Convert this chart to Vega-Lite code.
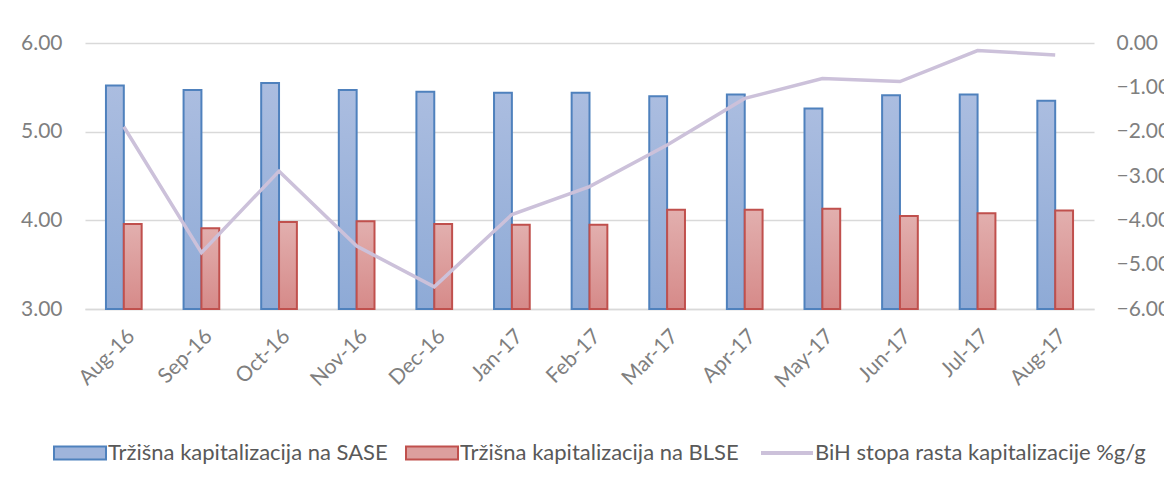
{
  "$schema": "https://vega.github.io/schema/vega-lite/v6.json",
  "width": 1009,
  "height": 266,
  "autosize": {"type": "none"},
  "padding": {"left": 85, "top": 43, "right": 70, "bottom": 184},
  "background": "white",
  "config": {
    "font": "Lato",
    "view": {"stroke": null},
    "axis": {"labelFont": "Lato", "labelColor": "#7f7f7f", "title": null}
  },
  "datasets": {
    "bars": [
      {"month": "Aug-16", "series": "SASE", "value": 5.52},
      {"month": "Aug-16", "series": "BLSE", "value": 3.96},
      {"month": "Sep-16", "series": "SASE", "value": 5.47},
      {"month": "Sep-16", "series": "BLSE", "value": 3.91},
      {"month": "Oct-16", "series": "SASE", "value": 5.55},
      {"month": "Oct-16", "series": "BLSE", "value": 3.98},
      {"month": "Nov-16", "series": "SASE", "value": 5.47},
      {"month": "Nov-16", "series": "BLSE", "value": 3.99},
      {"month": "Dec-16", "series": "SASE", "value": 5.45},
      {"month": "Dec-16", "series": "BLSE", "value": 3.96},
      {"month": "Jan-17", "series": "SASE", "value": 5.44},
      {"month": "Jan-17", "series": "BLSE", "value": 3.95},
      {"month": "Feb-17", "series": "SASE", "value": 5.44},
      {"month": "Feb-17", "series": "BLSE", "value": 3.95},
      {"month": "Mar-17", "series": "SASE", "value": 5.40},
      {"month": "Mar-17", "series": "BLSE", "value": 4.12},
      {"month": "Apr-17", "series": "SASE", "value": 5.42},
      {"month": "Apr-17", "series": "BLSE", "value": 4.12},
      {"month": "May-17", "series": "SASE", "value": 5.26},
      {"month": "May-17", "series": "BLSE", "value": 4.13},
      {"month": "Jun-17", "series": "SASE", "value": 5.41},
      {"month": "Jun-17", "series": "BLSE", "value": 4.05},
      {"month": "Jul-17", "series": "SASE", "value": 5.42},
      {"month": "Jul-17", "series": "BLSE", "value": 4.08},
      {"month": "Aug-17", "series": "SASE", "value": 5.35},
      {"month": "Aug-17", "series": "BLSE", "value": 4.11}
    ],
    "line": [
      {"month": "Aug-16", "rate": -1.89},
      {"month": "Sep-16", "rate": -4.73},
      {"month": "Oct-16", "rate": -2.89},
      {"month": "Nov-16", "rate": -4.58},
      {"month": "Dec-16", "rate": -5.50},
      {"month": "Jan-17", "rate": -3.87},
      {"month": "Feb-17", "rate": -3.24},
      {"month": "Mar-17", "rate": -2.30},
      {"month": "Apr-17", "rate": -1.25},
      {"month": "May-17", "rate": -0.80},
      {"month": "Jun-17", "rate": -0.87},
      {"month": "Jul-17", "rate": -0.17},
      {"month": "Aug-17", "rate": -0.27}
    ]
  },
  "layer": [
    {
      "data": {"name": "bars"},
      "encoding": {
        "x": {
          "field": "month", "type": "ordinal", "sort": null,
          "scale": {"paddingInner": 0.54, "paddingOuter": 0.27},
          "axis": {"labelAngle": -45, "ticks": false, "domain": true, "domainColor": "#d9d9d9", "domainWidth": 1.5, "grid": false, "labelFontSize": 21, "labelPadding": 16, "title": null}
        },
        "xOffset": {"field": "series", "type": "nominal", "scale": {"domain": ["SASE", "BLSE"], "paddingInner": 0, "paddingOuter": 0}},
        "y": {
          "field": "value", "type": "quantitative",
          "scale": {"domain": [3, 6], "zero": false, "nice": false},
          "axis": {"values": [3, 4, 5, 6], "format": ".2f", "grid": true, "gridColor": "#d9d9d9", "gridWidth": 1.5, "domain": false, "ticks": false, "labelPadding": 23, "labelFontSize": 21, "title": null}
        },
        "y2": {"datum": 3}
      },
      "layer": [
        {
          "transform": [{"filter": "datum.series === 'SASE'"}],
          "mark": {
            "type": "bar",
            "fill": {"gradient": "linear", "x1": 0, "y1": 0, "x2": 0, "y2": 1,
              "stops": [{"offset": 0, "color": "#abbde0"}, {"offset": 1, "color": "#8eaad6"}]},
            "stroke": "#4f81bd",
            "strokeWidth": 2
          }
        },
        {
          "transform": [{"filter": "datum.series === 'BLSE'"}],
          "mark": {
            "type": "bar",
            "fill": {"gradient": "linear", "x1": 0, "y1": 0, "x2": 0, "y2": 1,
              "stops": [{"offset": 0, "color": "#e2afae"}, {"offset": 1, "color": "#d68a89"}]},
            "stroke": "#c0504d",
            "strokeWidth": 2
          }
        }
      ]
    },
    {
      "data": {"name": "line"},
      "mark": {"type": "line", "strokeWidth": 3.5, "strokeJoin": "miter"},
      "encoding": {
        "x": {"field": "month", "type": "ordinal", "sort": null},
        "y": {
          "field": "rate", "type": "quantitative",
          "scale": {"domain": [-6, 0], "nice": false},
          "axis": {"orient": "right", "values": [-6, -5, -4, -3, -2, -1, 0], "format": ".2f", "grid": false, "domain": false, "ticks": false, "labelPadding": 22, "labelFontSize": 21, "title": null}
        },
        "color": {
          "datum": "BiH stopa rasta kapitalizacije %g/g",
          "type": "nominal",
          "scale": {
            "domain": ["Tržišna kapitalizacija na SASE", "Tržišna kapitalizacija na BLSE", "BiH stopa rasta kapitalizacije %g/g"],
            "range": ["#4f81bd", "#c0504d", "#ccc1da"]
          },
          "legend": {
            "orient": "none",
            "legendX": -16,
            "legendY": 399,
            "direction": "horizontal",
            "title": null,
            "symbolSize": 2704,
            "labelFontSize": 22,
            "labelLimit": 500,
            "labelColor": "#595959",
            "labelFont": "Lato",
            "labelOffset": 17,
            "columnPadding": 14,
            "encode": {
              "symbols": {
                "update": {
                  "shape": {"signal": "datum.value === 'BiH stopa rasta kapitalizacije %g/g' ? 'M-1,0H1' : 'M-1,-0.25H1V0.25H-1Z'"},
                  "fill": {"signal": "datum.value === 'Tržišna kapitalizacija na SASE' ? '#9fb4db' : datum.value === 'Tržišna kapitalizacija na BLSE' ? '#dc9f9e' : 'transparent'"},
                  "stroke": {"signal": "datum.value === 'Tržišna kapitalizacija na SASE' ? '#4f81bd' : datum.value === 'Tržišna kapitalizacija na BLSE' ? '#c0504d' : '#ccc1da'"},
                  "strokeWidth": {"signal": "datum.value === 'BiH stopa rasta kapitalizacije %g/g' ? 4 : 2"},
                  "opacity": {"value": 1}
                }
              }
            }
          }
        }
      }
    }
  ],
  "resolve": {"scale": {"y": "independent"}}
}
